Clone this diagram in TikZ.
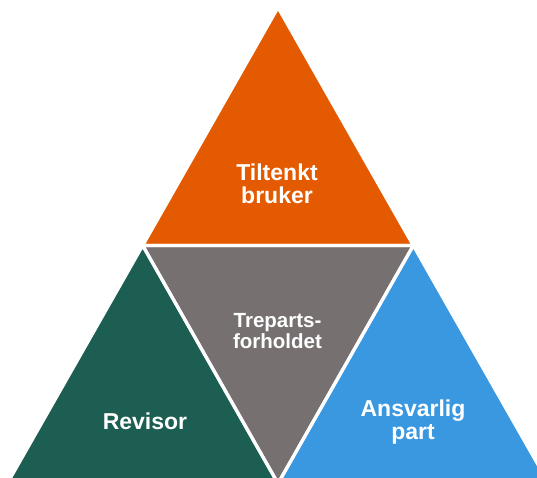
\documentclass[tikz,border=0pt]{standalone}
\usepackage{fontspec}
\setmainfont{Liberation Sans}
\definecolor{orng}{HTML}{E35A00}
\definecolor{grn}{HTML}{1C5E51}
\definecolor{gry}{HTML}{767170}
\definecolor{blu}{HTML}{3A98E0}
\tikzset{
  gap/.style={draw=white,line width=3.2pt,line join=miter},
  lbl/.style={text=white,font=\bfseries\fontsize{23}{23}\selectfont,align=center,inner sep=0pt},
  lblsmall/.style={text=white,font=\bfseries\fontsize{20.5}{21}\selectfont,align=center,inner sep=0pt}
}
\begin{document}
\begin{tikzpicture}[x=1pt,y=-1pt]
\useasboundingbox (0,0) rectangle (537,477);
\clip (0,0) rectangle (537,477);
\coordinate (A) at (278,7.5);
\coordinate (ML) at (142.7,245.5);
\coordinate (MR) at (413.3,245.5);
\coordinate (MB) at (278,483.5);
\coordinate (B1) at (7.3,483.5);
\coordinate (B2) at (548.7,483.5);
\fill[orng] (A) -- (ML) -- (MR) -- cycle;
\fill[grn] (ML) -- (B1) -- (MB) -- cycle;
\fill[blu] (MR) -- (MB) -- (B2) -- cycle;
\fill[gry] (ML) -- (MR) -- (MB) -- cycle;
\draw[gap] (A) -- (ML) -- (MR) -- cycle;
\draw[gap] (ML) -- (B1) -- (MB) -- cycle;
\draw[gap] (MR) -- (MB) -- (B2) -- cycle;
\draw[gap] (ML) -- (MR) -- (MB) -- cycle;
\node[lbl] (t1) at (277,184) {Tiltenkt\\bruker};
\node[lblsmall] (t2) at (277.5,331) {Treparts-\\forholdet};
\node[lbl] (t3) at (145,421) {Revisor};
\node[lbl] (t4) at (413,422) {Ansvarlig\\part};
\end{tikzpicture}
\end{document}
